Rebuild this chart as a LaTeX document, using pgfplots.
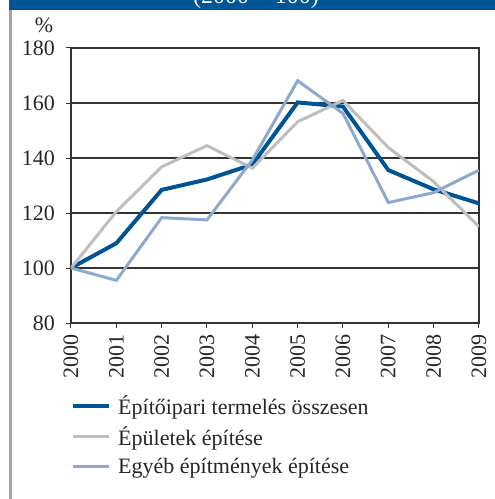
\documentclass[border=0pt]{standalone}
\usepackage{fontspec}
\setmainfont{Liberation Serif}
\usepackage{pgfplots}
\pgfplotsset{compat=1.18}
\definecolor{hdrblue}{RGB}{0,85,150}
\definecolor{darkblue}{RGB}{0,84,147}
\definecolor{lightgray}{RGB}{190,190,190}
\definecolor{lightblue}{RGB}{142,169,208}
\definecolor{sidegray}{RGB}{165,165,165}
\begin{document}
\begin{tikzpicture}[x=1pt,y=1pt]
  \path[use as bounding box] (0,0) rectangle (495,499);
  % header band, title cut off at the top
  \fill[hdrblue] (9,489) rectangle (495,499);
  \begin{scope}
    \clip (9,489) rectangle (495,499);
    \node[white,anchor=base,inner sep=0pt,font=\fontsize{24}{28}\selectfont] at (256,495) {(2000 = 100)};
  \end{scope}
  % left border
  \fill[sidegray] (9,0) rectangle (12,489);
  \node[font=\fontsize{22}{26}\selectfont, text=black!85] at (44,474) {\%};
  \begin{axis}[
      at={(71pt,176pt)}, anchor=south west,
      scale only axis, width=408pt, height=275pt,
      xmin=2000, xmax=2009, ymin=80, ymax=180,
      xtick={2000,...,2009}, ytick={80,100,...,180},
      /pgf/number format/1000 sep={},
      /pgf/number format/assume math mode=true,
      tick label style={font=\fontsize{22}{26}\selectfont, text=black!85},
      yticklabel style={inner xsep=11pt},
      xticklabel style={rotate=90, anchor=east, inner xsep=6pt},
      tick align=outside, tickpos=left, major tick length=5pt,
      tick style={black!80, line width=1pt},
      axis line style={black!80, line width=1.5pt},
      ymajorgrids, grid style={black!80, line width=1.2pt},
      legend style={at={(axis description cs:0,-0.255)}, anchor=north west,
        draw=none, fill=none, font=\fontsize{22}{26}\selectfont,
        row sep=7pt, inner sep=0pt,
        nodes={inner xsep=7pt, text=black!85}},
      legend cell align=left,
      legend image code/.code={\draw[#1] (0pt,0pt) -- (36pt,0pt);},
    ]
    \addplot[darkblue, line width=4pt] coordinates {
      (2000,100) (2001,109) (2002,128.4) (2003,132.2) (2004,137.6)
      (2005,160.2) (2006,158.7) (2007,135.6) (2008,128.6) (2009,123.5)};
    \addlegendentry{Építőipari termelés összesen}
    \addplot[lightgray, line width=3pt] coordinates {
      (2000,100) (2001,120.5) (2002,136.8) (2003,144.5) (2004,136.3)
      (2005,153.2) (2006,160.9) (2007,143.8) (2008,131.4) (2009,115)};
    \addlegendentry{Épületek építése}
    \addplot[lightblue, line width=3pt] coordinates {
      (2000,100) (2001,95.5) (2002,118.3) (2003,117.5) (2004,139.3)
      (2005,168.1) (2006,156.2) (2007,123.8) (2008,127.4) (2009,135.6)};
    \addlegendentry{Egyéb építmények építése}
  \end{axis}
\end{tikzpicture}
\end{document}
